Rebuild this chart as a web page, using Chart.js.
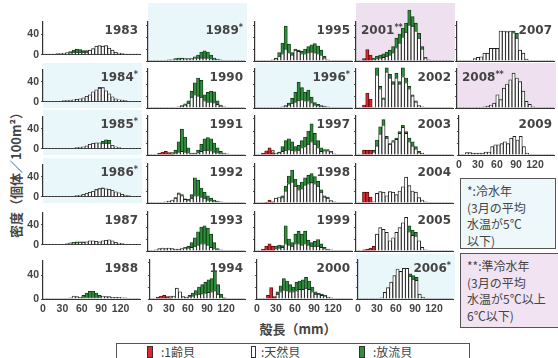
<!DOCTYPE html>
<html>
<head>
<meta charset="utf-8">
<script src="https://cdn.jsdelivr.net/npm/chart.js@4.4.1/dist/chart.umd.min.js"></script>
<style>
  body { margin: 0; background: #fff; }
  #page { position: relative; width: 558px; height: 358px; overflow: hidden; font-family: "Noto Sans CJK JP", sans-serif; color: #333; }
  .bg { position: absolute; }
  .cold { background: #eaf7fa; }
  .semi { background: #efe0f0; }
  canvas { position: absolute; }
  .year { position: absolute; font: bold 12px "DejaVu Sans", sans-serif; color: #444; line-height: 14px; white-space: nowrap; }
  .year sup { font-size: 8px; vertical-align: 4px; line-height: 0; }
  .ytitle { position: absolute; left: 15px; top: 172px; transform: translate(-50%, -50%) rotate(-90deg); font-size: 13px; font-weight: bold; white-space: nowrap; color: #444; }
  .xtitle { position: absolute; left: 298px; top: 328px; transform: translate(-50%, -50%); font-size: 13px; font-weight: bold; white-space: nowrap; color: #444; }
  .note { position: absolute; border: 1.5px solid #555; font-size: 12px; line-height: 16.5px; padding: 4px 0 0 6px; box-sizing: border-box; white-space: nowrap; color: #444; }
  .legend { position: absolute; left: 116px; top: 343px; width: 354px; height: 30px; border: 1.5px solid #555; box-sizing: border-box; }
  .sw { position: absolute; top: 2px; width: 6px; height: 12px; border: 1px solid #333; box-sizing: border-box; }
  .lt { position: absolute; top: 0; font-size: 12px; line-height: 16px; color: #444; white-space: nowrap; }
</style>
</head>
<body>
<div id="page">
  <div class="ytitle">密度（個体／100m²）</div>
  <div class="xtitle">殻長（mm）</div>
  <div class="note" style="left:460px;top:178px;width:96px;height:71px;background:#eef8fb;">*:冷水年<br>(3月の平均<br>水温が5℃<br>以下)</div>
  <div class="note" style="left:460px;top:253px;width:100px;height:75px;background:#f1e3f1;">**:準冷水年<br>(3月の平均<br>水温が5℃以上<br>6℃以下)</div>
  <div class="legend">
    <div class="sw" style="left:30px;background:#e3262b;"></div><div class="lt" style="left:44px;">:1齢貝</div>
    <div class="sw" style="left:134px;width:5px;background:#fff;"></div><div class="lt" style="left:144px;">:天然貝</div>
    <div class="sw" style="left:242px;background:#2f8f3a;"></div><div class="lt" style="left:256px;">:放流貝</div>
  </div>
</div>
<script>
// shell length bins (mm), 5 mm wide
const binCenters = [2.5, 7.5, 12.5, 17.5, 22.5, 27.5, 32.5, 37.5, 42.5, 47.5, 52.5, 57.5, 62.5, 67.5, 72.5,
  77.5, 82.5, 87.5, 92.5, 97.5, 102.5, 107.5, 112.5, 117.5, 122.5, 127.5, 132.5, 137.5, 142.5, 147.5];
const xTicks = [0, 30, 60, 90, 120];
const yTicks = [0, 20, 40, 60];
const yLabelTicks = [0, 40];

const years = ['1983', '1984*', '1985*', '1986*', '1987', '1988',
  '1989*', '1990', '1991', '1992', '1993', '1994',
  '1995', '1996*', '1997', '1998', '1999', '2000',
  '2001**', '2002', '2003', '2004', '2005', '2006*',
  '2007', '2008**', '2009'];

// 1齢貝 (red)
const oneYear = [
  [0,0,0,0,0,0,0,0,0,0,0,0,0,0,0,0,0,0,0,0,0,0,0,0,0,0,0,0,0,0],
  [0,0,0,0,0,0,0,0,0,0,0,0,0,0,0,0,0,0,0,0,0,0,0,0,0,0,0,0,0,0],
  [0,0,0,0,0,0,0,0,0,0,0,0,0,0,0,0,0,0,0,0,0,0,0,0,0,0,0,0,0,0],
  [0,0,0,0,0,0,0,0,0,0,0,0,0,0,0,0,0,0,0,0,0,0,0,0,0,0,0,0,0,0],
  [0,0,0,0,0,0,0,0,0,0,0,0,0,0,0,0,0,0,0,0,0,0,0,0,0,0,0,0,0,0],
  [0,0,0,0,0,0,0,0,0,0,0,0,0,0,0,0,0,0,0,0,0,0,0,0,0,0,0,0,0,0],
  [0,0,0,0,0,0,0,0,0,0,0,0,0,0,0,0,0,0,0,0,0,0,0,0,0,0,0,0,0,0],
  [0,0,0,0,0,0,0,0,0,0,0,0,0,0,0,0,0,0,0,0,0,0,0,0,0,0,0,0,0,0],
  [0,0,0,3,5,6,4,2,0,0,0,0,0,0,0,0,0,0,0,0,0,0,0,0,0,0,0,0,0,0],
  [0,0,0,0,0,0,0,0,0,0,0,0,0,0,0,0,0,0,0,0,0,0,0,0,0,0,0,0,0,0],
  [0,0,0,0,0,0,0,0,0,0,0,0,0,0,0,0,0,0,0,0,0,0,0,0,0,0,0,0,0,0],
  [0,0,3,5,6,4,2,0,0,0,0,0,0,0,0,0,0,0,0,0,0,0,0,0,0,0,0,0,0,0],
  [0,0,0,0,0,0,0,0,0,0,0,0,0,0,0,0,0,0,0,0,0,0,0,0,0,0,0,0,0,0],
  [0,0,0,0,0,0,0,0,0,0,0,0,0,0,0,0,0,0,0,0,0,0,0,0,0,0,0,0,0,0],
  [0,0,3,7,12,4,0,0,0,0,0,0,0,0,0,0,0,0,0,0,0,0,0,0,0,0,0,0,0,0],
  [0,0,0,1,5,2,0,0,0,0,0,0,0,0,0,0,0,0,0,0,0,0,0,0,0,0,0,0,0,0],
  [0,0,3,8,12,8,0,0,0,0,0,0,0,0,0,0,0,0,0,0,0,0,0,0,0,0,0,0,0,0],
  [0,0,0,6,19,4,0,0,0,0,0,0,0,0,0,0,0,0,0,0,0,0,0,0,0,0,0,0,0,0],
  [0,0,4,19,10,0,0,0,0,0,0,0,0,0,0,0,0,0,0,0,0,0,0,0,0,0,0,0,0,0],
  [0,0,5,25,15,0,0,0,0,0,0,0,0,0,0,0,0,0,0,0,0,0,0,0,0,0,0,0,0,0],
  [0,0,8,8,8,0,0,0,0,0,0,0,0,0,0,0,0,0,0,0,0,0,0,0,0,0,0,0,0,0],
  [0,0,18,18,10,0,0,0,0,0,0,0,0,0,0,0,0,0,0,0,0,0,0,0,0,0,0,0,0,0],
  [0,0,2,3,5,8,0,0,0,0,0,0,0,0,0,0,0,0,0,0,0,0,0,0,0,0,0,0,0,0],
  [0,0,0,0,0,0,0,0,0,0,0,0,0,0,0,0,0,0,0,0,0,0,0,0,0,0,0,0,0,0],
  [0,0,0,0,0,0,0,0,0,0,0,0,0,0,0,0,0,0,0,0,0,0,0,0,0,0,0,0,0,0],
  [0,0,0,0,0,0,0,0,0,0,0,0,0,0,0,0,0,0,0,0,0,0,0,0,0,0,0,0,0,0],
  [0,0,0,0,0,0,0,0,0,0,0,0,0,0,0,0,0,0,0,0,0,0,0,0,0,0,0,0,0,0]
];

// 天然貝 (white)
const wild = [
  [1,1,1,1,2,2,3,4,3,4,4,4,4,5,9,12,17,18,17,18,13,9,5,3,2,1,1,1,1,1],
  [1,1,1,1,1,1,2,2,3,4,5,6,8,11,14,20,24,27,28,22,16,10,6,4,3,2,1,1,1,1],
  [1,1,1,1,1,1,1,1,1,1,2,3,4,6,9,11,12,12,11,11,11,7,4,2,1,1,1,1,1,1],
  [1,1,1,1,1,1,1,1,1,1,2,3,5,7,9,11,14,16,17,16,15,13,10,8,5,3,2,1,1,1],
  [1,1,1,1,1,1,1,2,3,3,3,4,5,6,8,8,7,6,8,9,10,8,5,3,2,1,1,1,1,1],
  [1,1,1,1,1,1,1,1,2,5,4,3,2,2,2,2,2,3,5,4,4,3,3,3,2,2,1,1,1,1],
  [1,1,1,1,1,1,2,2,3,3,4,4,4,4,5,5,5,5,5,4,3,3,2,1,1,1,1,1,1,1],
  [1,1,1,1,1,1,1,1,1,2,3,5,8,18,22,20,18,12,10,10,9,6,3,2,1,1,1,1,1,1],
  [1,1,1,0,0,0,0,1,3,5,6,5,4,2,2,4,6,8,8,7,5,4,2,2,2,1,1,1,1,1],
  [1,1,1,1,1,2,3,5,8,15,12,6,5,8,12,12,10,8,5,4,3,2,2,1,1,1,1,1,1,1],
  [1,1,2,4,5,4,5,4,3,3,4,5,5,6,8,10,12,12,10,6,4,2,2,1,1,1,1,1,1,1],
  [1,1,0,0,0,0,3,5,18,12,4,3,4,5,7,8,9,10,11,12,14,8,3,1,1,1,1,1,1,1],
  [1,1,1,1,1,2,4,8,12,20,14,10,18,16,12,12,14,15,14,12,10,5,2,1,1,1,1,1,1,1],
  [1,1,1,1,1,1,1,1,2,3,5,8,10,13,14,12,12,9,5,4,3,2,2,1,1,1,1,1,1,1],
  [1,1,0,0,0,3,3,4,6,8,9,8,7,8,12,14,18,22,18,12,6,7,7,5,2,1,1,1,1,1],
  [1,1,1,0,0,0,8,10,9,20,32,35,28,22,24,30,32,34,32,28,18,10,8,4,2,1,1,1,1,1],
  [1,1,0,0,0,0,4,5,6,12,10,8,12,12,10,12,10,8,8,8,6,4,2,2,1,1,1,1,1,1],
  [1,1,1,0,0,0,8,12,15,14,12,12,14,16,16,18,16,12,8,8,6,5,3,2,1,1,1,1,1,1],
  [1,1,0,0,0,2,4,5,6,8,10,14,22,30,40,48,60,58,50,38,20,5,2,1,1,1,1,1,1,1],
  [1,1,0,0,0,1,55,32,15,60,50,40,50,40,52,42,32,20,10,4,2,1,1,1,1,1,1,1,1,1],
  [1,1,0,0,0,5,15,35,50,28,18,22,26,36,46,36,22,15,10,4,3,1,1,1,1,1,1,1,1,1],
  [1,1,0,0,0,2,16,19,18,12,19,18,14,20,27,43,29,20,18,9,5,2,1,1,1,1,1,1,1,1],
  [1,1,0,0,0,0,28,39,36,31,17,22,31,39,47,56,32,26,25,17,6,2,1,1,1,1,1,1,1,1],
  [1,1,1,1,1,1,1,2,11,19,28,39,50,46,51,51,38,33,31,8,3,1,1,1,1,1,1,1,1,1],
  [1,1,1,1,1,4,6,7,13,13,21,21,21,50,50,49,50,47,38,18,13,3,1,1,1,1,1,1,1,1],
  [1,1,1,1,1,1,1,1,2,3,5,8,22,14,33,40,47,58,50,44,28,11,6,2,1,1,1,1,1,1],
  [1,1,4,4,3,3,3,3,5,5,14,17,17,19,22,19,28,31,25,31,14,3,1,1,1,1,1,1,1,1]
];

// 放流貝 (green)
const released = [
  [0,0,0,0,0,0,0,0,3,5,7,6,4,3,0,0,0,0,0,0,0,0,0,0,0,0,0,0,0,0],
  [0,0,0,0,0,0,0,0,0,0,0,0,0,0,0,0,0,2,1,0,0,0,0,0,0,0,0,0,0,0],
  [0,0,0,0,0,0,0,0,0,0,0,0,0,0,0,0,0,0,4,7,6,0,0,0,0,0,0,0,0,0],
  [0,0,0,0,0,0,0,0,0,0,0,0,0,0,0,0,1,1,1,0,0,0,0,0,0,0,0,0,0,0],
  [0,0,0,0,0,0,0,0,1,2,3,2,1,0,0,0,0,0,0,0,0,0,0,0,0,0,0,0,0,0],
  [0,0,0,0,0,0,0,0,0,0,0,0,4,8,11,11,8,3,0,0,0,0,0,0,0,0,0,0,0,0],
  [0,0,0,0,0,0,0,0,1,2,1,0,0,0,2,5,10,12,10,6,2,0,0,0,0,0,0,0,0,0],
  [0,0,0,0,0,0,0,0,0,0,1,2,4,10,20,30,28,10,16,18,18,6,2,0,0,0,0,0,0,0],
  [0,0,0,0,0,0,0,1,5,17,37,25,8,1,1,4,12,19,21,20,15,8,4,1,0,0,0,0,0,0],
  [0,0,0,0,0,0,0,0,1,2,2,1,1,6,30,26,15,10,7,4,2,1,0,0,0,0,0,0,0,0],
  [0,0,0,0,0,0,0,0,0,0,0,1,3,8,14,22,28,30,28,22,10,2,0,0,0,0,0,0,0,0],
  [0,0,0,0,0,0,0,0,0,0,0,0,2,5,7,12,15,18,21,22,33,16,5,1,0,0,0,0,0,0],
  [0,0,0,0,0,0,1,6,18,38,14,4,2,2,4,8,10,12,15,13,8,3,0,0,0,0,0,0,0,0],
  [0,0,0,0,0,0,0,0,0,1,3,8,16,30,20,14,18,9,4,2,1,1,0,0,0,0,0,0,0,0],
  [0,0,0,0,0,1,0,1,8,16,18,14,7,8,12,16,22,30,18,12,6,2,2,1,0,0,0,0,0,0],
  [0,0,0,0,0,0,0,0,3,8,13,20,12,8,11,12,14,15,12,8,4,2,2,0,0,0,0,0,0,0],
  [0,0,0,0,0,0,4,5,3,30,10,6,16,21,18,21,8,6,8,11,6,2,1,0,0,0,0,0,0,0],
  [0,0,0,0,0,0,4,10,19,16,12,8,14,14,16,18,14,8,4,2,2,1,0,0,0,0,0,0,0,0],
  [0,0,0,0,0,3,4,5,6,7,8,10,16,15,15,15,25,16,13,8,4,1,0,0,0,0,0,0,0,0],
  [0,0,0,0,0,0,12,4,2,7,6,4,8,4,15,8,4,2,2,0,0,0,0,0,0,0,0,0,0,0],
  [0,0,0,0,0,3,10,12,9,3,1,2,2,3,4,3,6,7,4,2,0,0,0,0,0,0,0,0,0,0],
  [0,0,0,0,0,0,0,0,0,0,0,0,0,0,0,0,0,0,0,0,0,0,0,0,0,0,0,0,0,0],
  [0,0,0,0,0,0,0,0,0,0,0,0,0,0,0,0,10,9,6,0,0,0,0,0,0,0,0,0,0,0],
  [0,0,0,0,0,0,0,0,0,0,0,0,0,0,0,0,4,6,5,0,0,0,0,0,0,0,0,0,0,0],
  [0,0,0,0,0,0,0,0,0,0,0,0,0,0,0,0,0,3,8,0,0,0,0,0,0,0,0,0,0,0],
  [0,0,0,0,0,0,0,0,0,0,0,0,0,0,0,0,0,0,0,0,0,0,0,0,0,0,0,0,0,0],
  [0,0,0,0,0,0,0,0,0,0,0,0,0,0,0,0,0,0,0,0,0,0,0,0,0,0,0,0,0,0]
];

// layout of the small multiples
const colX = [43, 148, 255, 356, 457];
const rowBase = [61, 108, 155, 203, 251, 299];
const PLOT_W = 97, PLOT_H = 39, Y_MAX = 65;
const leftLabel = ['2001**', '2008**'];

const page = document.getElementById('page');
const tickFont = { family: 'Liberation Sans', size: 10.5, weight: 'bold' };

years.forEach((label, i) => {
  const col = i < 24 ? Math.floor(i / 6) : 4;
  const row = i < 24 ? i % 6 : i - 24;
  const base = rowBase[row];
  const showY = col === 0;
  const showX = row === 5 || i === years.length - 1;
  const yW = showY ? 22 : 5;
  const xH = showX ? 17 : 2;
  const topPad = row === 0 ? 16 : 8;

  // panel background for cold / semi-cold years
  const stars = (label.match(/\*+/) || [''])[0];
  if (stars) {
    const bg = document.createElement('div');
    bg.className = 'bg ' + (stars === '**' ? 'semi' : 'cold');
    const top = row === 0 ? base - 58 : base - 45;
    bg.style.cssText = `left:${colX[col]}px;top:${top}px;width:${PLOT_W + 2}px;height:${base - top}px;`;
    page.appendChild(bg);
  }

  const cv = document.createElement('canvas');
  const w = yW + PLOT_W + 3, h = topPad + PLOT_H + xH;
  cv.width = w; cv.height = h;
  cv.style.cssText = `left:${colX[col] - yW}px;top:${base - PLOT_H - topPad}px;width:${w}px;height:${h}px;`;
  page.appendChild(cv);

  const yr = document.createElement('div');
  yr.className = 'year';
  yr.innerHTML = label.replace(/\*+/, '') + (stars ? '<sup>' + stars + '</sup>' : '');
  yr.style.top = (base - 38) + 'px';
  if (leftLabel.includes(label)) yr.style.left = (colX[col] + 5) + 'px';
  else yr.style.right = (558 - (colX[col] + PLOT_W - 2)) + 'px';
  page.appendChild(yr);

  new Chart(cv, {
    type: 'bar',
    data: {
      labels: binCenters,
      datasets: [
        { label: '1齢貝', data: oneYear[i], backgroundColor: '#e3262b', borderColor: '#4a1010' },
        { label: '天然貝', data: wild[i], backgroundColor: '#ffffff', borderColor: '#1e1e1e' },
        { label: '放流貝', data: released[i], backgroundColor: '#2f8f3a', borderColor: '#123a18' }
      ]
    },
    options: {
      responsive: false,
      animation: false,
      devicePixelRatio: 1,
      layout: { padding: { top: topPad, right: 3, left: 0, bottom: 0 } },
      plugins: { legend: { display: false }, tooltip: { enabled: false } },
      datasets: { bar: { barPercentage: 1, categoryPercentage: 1, borderWidth: 0.9, clip: false } },
      scales: {
        x: {
          type: 'linear', min: 0, max: 150, stacked: true, offset: false,
          afterBuildTicks: s => { s.ticks = xTicks.map(v => ({ value: v })); },
          afterFit: s => { s.height = xH; },
          grid: { display: false, drawTicks: false },
          border: { color: '#333', width: 1 },
          ticks: { display: showX, autoSkip: false, maxRotation: 0, padding: 4, color: '#444', font: tickFont, callback: v => String(v) }
        },
        y: {
          min: 0, max: Y_MAX, stacked: true,
          afterBuildTicks: s => { s.ticks = yTicks.map(v => ({ value: v })); },
          afterFit: s => { s.width = yW; },
          grid: { drawOnChartArea: false, drawTicks: true, tickLength: 2, color: '#555' },
          border: { color: '#333', width: 1.2 },
          ticks: { display: showY, padding: 2, color: '#444', font: tickFont, callback: v => yLabelTicks.includes(v) ? String(v) : '' }
        }
      }
    }
  });
});
</script>
</body>
</html>
